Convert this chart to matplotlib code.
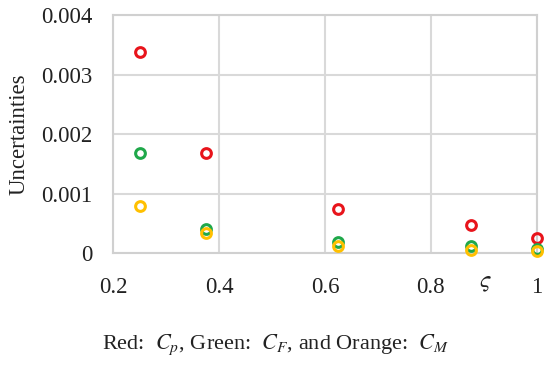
import matplotlib
matplotlib.use("Agg")
import matplotlib.pyplot as plt

plt.rcParams['font.family'] = ['Liberation Serif', 'DejaVu Serif']
plt.rcParams['mathtext.fontset'] = 'stix'

x_vals = [0.25, 0.375, 0.625, 0.875, 1.0]
red_cp = [0.00338, 0.00168, 0.00074, 0.00047, 0.00025]
green_cf = [0.00168, 0.00040, 0.00018, 0.00012, 0.00007]
orange_cm = [0.00079, 0.00034, 0.00012, 0.00005, 0.00004]

xticks = [0.2, 0.4, 0.6, 0.8, 1.0]
xticklabels = ['0.2', '0.4', '0.6', '0.8', '1']
yticks = [0, 0.001, 0.002, 0.003, 0.004]
yticklabels = ['0', '0.001', '0.002', '0.003', '0.004']

fig = plt.figure(figsize=(5.5, 3.67), dpi=100)
ax = fig.add_axes([0.2055, 0.3106, 0.7705, 0.6484])

mk = dict(marker='o', linestyle='none', markersize=7, markeredgewidth=2.2,
          markerfacecolor='none', clip_on=False, zorder=3)
ax.plot(x_vals, red_cp, markeredgecolor='#E8141B', **mk)
ax.plot(x_vals, green_cf, markeredgecolor='#1FA84A', **mk)
ax.plot(x_vals, orange_cm, markeredgecolor='#FFC000', **mk)

ax.set_xlim(0.2, 1.0)
ax.set_ylim(0, 0.004)
ax.set_xticks(xticks)
ax.set_xticklabels(xticklabels)
ax.set_yticks(yticks)
ax.set_yticklabels(yticklabels)
ax.tick_params(length=0, labelsize=16.5, colors='#222222', pad=15)
ax.tick_params(axis='x', pad=17)
ax.grid(True, color='#D9D9D9', linewidth=1.5)
ax.set_axisbelow(True)
for s in ax.spines.values():
    s.set_color('#D0D0D0')
    s.set_linewidth(1.5)

ax.set_ylabel('Uncertainties', fontsize=16.5, color='#222222', labelpad=8)
ax.text(0.902, -0.00052, r'$\varsigma$', fontsize=17, ha='center', va='center',
        color='#222222')

fig.text(0.5, 0.06, r'Red:  $C_p$, Green:  $C_F$, and Orange:  $C_M$',
         ha='center', va='center', fontsize=16, color='#222222')

fig.savefig('out.png', dpi=100)
